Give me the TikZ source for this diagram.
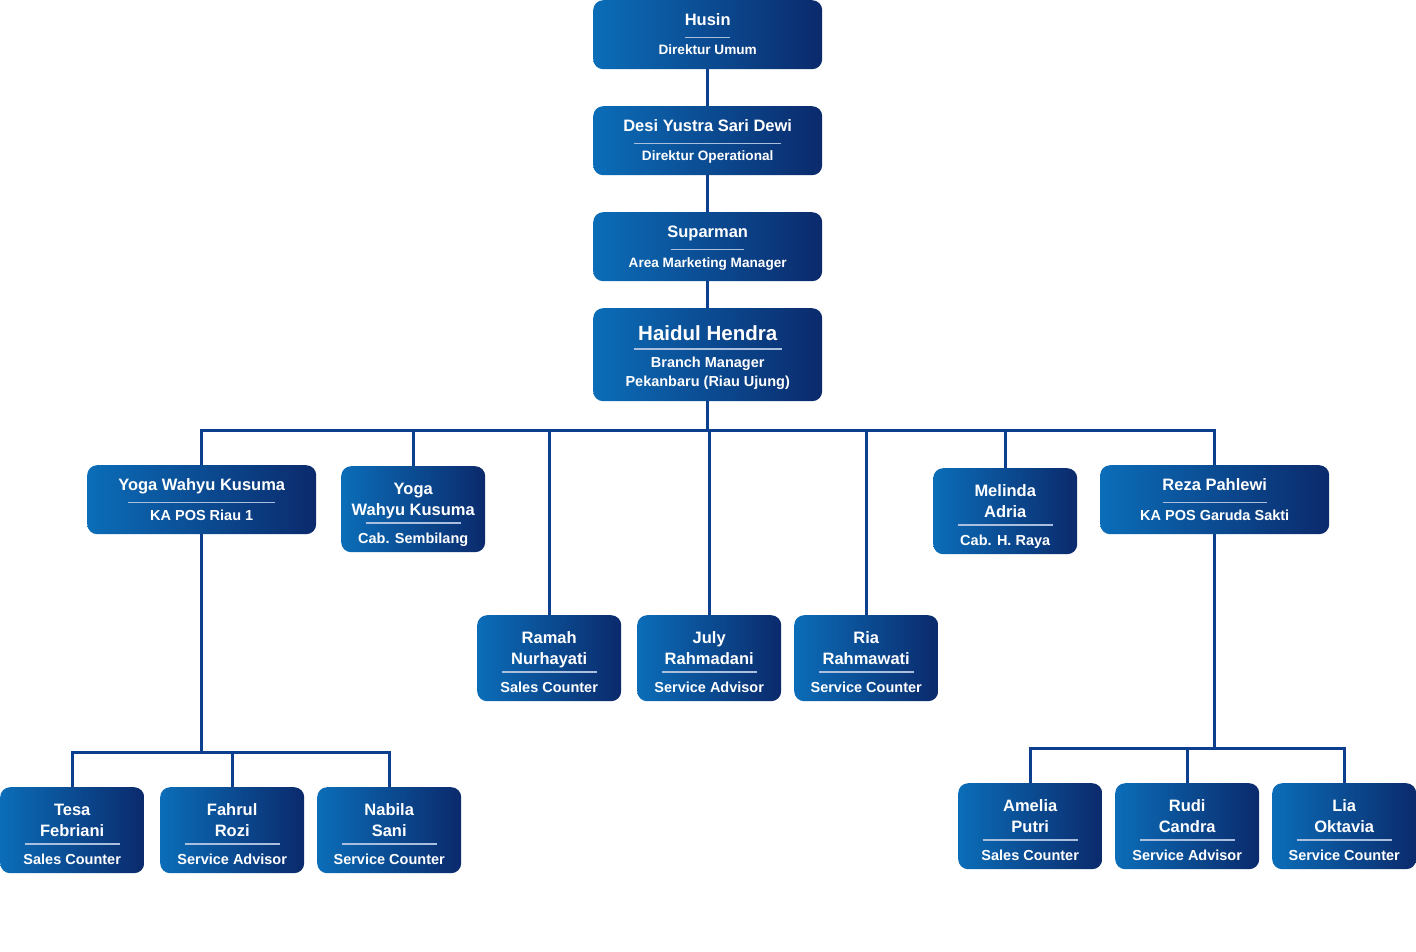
\documentclass[tikz,border=0pt]{standalone}
\usepackage{fontspec}
\setmainfont{Liberation Sans}
\usetikzlibrary{calc}
\definecolor{cardleft}{HTML}{0B6DB8}
\definecolor{cardright}{HTML}{0B2A6C}
\definecolor{linkblue}{HTML}{0C3F8E}
\definecolor{rulegray}{HTML}{A9BFDD}
\tikzset{
  card/.style={rectangle, rounded corners=10pt, left color=cardleft,
               right color=cardright, draw=none, inner sep=0pt, anchor=north west},
  pname/.style={text=white, font=\bfseries\fontsize{16.5}{20}\selectfont,
                inner sep=0pt, anchor=base},
  ptitle/.style={text=white, font=\bfseries\fontsize{14.5}{17}\selectfont,
                 inner sep=0pt, anchor=base},
  sep/.style={draw=rulegray, line width=1.5pt},
  link/.style={draw=linkblue, line width=2.6pt},
}
% wide card: id, left, top, name, rule width, title
\newcommand{\widecard}[6]{%
  \node[card, minimum width=229pt, minimum height=69pt] (#1) at (#2,-#3) {};
  \node[pname] at ($(#1.north)+(0,-25.5)$) {#4};
  \draw[sep] ($(#1.north)+(-#5/2,-37.5)$) -- ++(#5,0);
  \node[ptitle] at ($(#1.north)+(0,-55)$) {#6};
}
% small card: id, left, top, name line 1, name line 2, title
\newcommand{\smallcard}[6]{%
  \node[card, minimum width=144pt, minimum height=86pt] (#1) at (#2,-#3) {};
  \node[pname] at ($(#1.north)+(0,-28.5)$) {#4};
  \node[pname] at ($(#1.north)+(0,-49.5)$) {#5};
  \draw[sep] ($(#1.north)+(-47.5,-57)$) -- ++(95,0);
  \node[ptitle] at ($(#1.north)+(0,-77)$) {#6};
}
\begin{document}
\begin{tikzpicture}[x=1pt, y=1pt]
  \useasboundingbox (0,0) rectangle (1416,-952);

  % top of the chain
  \begin{scope}[ptitle/.append style={font=\bfseries\fontsize{13.6}{16}\selectfont}]
    \widecard{husin}{593}{0}{Husin}{45}{Direktur Umum}
    \widecard{desi}{593}{106}{Desi Yustra Sari Dewi}{147}{Direktur Operational}
    \widecard{suparman}{593}{212}{Suparman}{73}{Area Marketing Manager}
  \end{scope}

  \node[card, minimum width=229pt, minimum height=93pt] (haidul) at (593,-308) {};
  \node[pname, font=\bfseries\fontsize{20.5}{24}\selectfont] at ($(haidul.north)+(0,-32)$) {Haidul Hendra};
  \draw[sep] ($(haidul.north)+(-74,-41)$) -- ++(148,0);
  \node[ptitle] at ($(haidul.north)+(0,-59)$) {Branch Manager};
  \node[ptitle] at ($(haidul.north)+(0,-78)$) {Pekanbaru (Riau Ujung)};

  % branch level
  \widecard{yogapos}{87}{465}{Yoga Wahyu Kusuma}{147}{KA POS Riau 1}
  \smallcard{yogacab}{341}{466}{Yoga}{Wahyu Kusuma}{Cab. Sembilang}
  \smallcard{ramah}{477}{615}{Ramah}{Nurhayati}{Sales Counter}
  \smallcard{july}{637}{615}{July}{Rahmadani}{Service Advisor}
  \smallcard{ria}{794}{615}{Ria}{Rahmawati}{Service Counter}
  \smallcard{melinda}{933}{468}{Melinda}{Adria}{Cab. H. Raya}
  \widecard{reza}{1100}{465}{Reza Pahlewi}{104}{KA POS Garuda Sakti}

  % staff under the posts
  \smallcard{tesa}{0}{787}{Tesa}{Febriani}{Sales Counter}
  \smallcard{fahrul}{160}{787}{Fahrul}{Rozi}{Service Advisor}
  \smallcard{nabila}{317}{787}{Nabila}{Sani}{Service Counter}
  \smallcard{amelia}{958}{783}{Amelia}{Putri}{Sales Counter}
  \smallcard{rudi}{1115}{783}{Rudi}{Candra}{Service Advisor}
  \smallcard{lia}{1272}{783}{Lia}{Oktavia}{Service Counter}

  % connectors
  \draw[link] (husin.south) -- (desi.north);
  \draw[link] (desi.south) -- (suparman.north);
  \draw[link] (suparman.south) -- (haidul.north);
  \draw[link] (haidul.south) -- ++(0,-29) coordinate (busmain);
  \foreach \child in {yogapos, yogacab, ramah, july, ria, melinda, reza}
    \draw[link] (\child.north) |- (busmain);

  \draw[link] (yogapos.south) -- ++(0,-218) coordinate (busleft);
  \foreach \child in {tesa, fahrul, nabila}
    \draw[link] (\child.north) |- (busleft);

  \draw[link] (reza.south) -- ++(0,-214) coordinate (busright);
  \foreach \child in {amelia, rudi, lia}
    \draw[link] (\child.north) |- (busright);
\end{tikzpicture}
\end{document}
